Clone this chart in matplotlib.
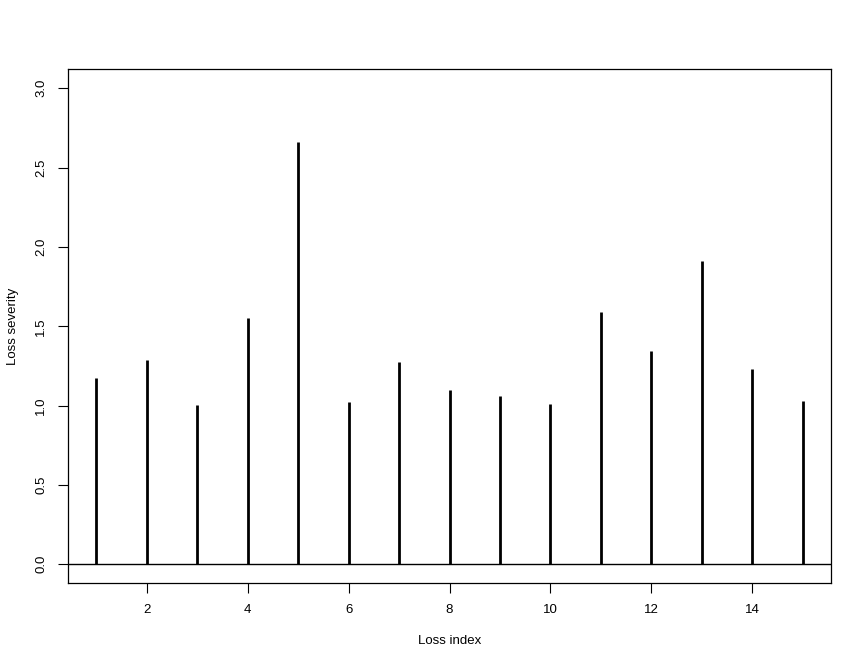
import numpy as np
import matplotlib.pyplot as plt

plt.rcParams['font.family'] = ['Liberation Sans', 'DejaVu Sans']

# loss data
loss_index = np.arange(1, 16)
loss_severity = [1.172, 1.285, 1.002, 1.550, 2.659, 1.021, 1.273, 1.098,
                 1.060, 1.012, 1.590, 1.344, 1.913, 1.229, 1.027]
x_ticks = [2, 4, 6, 8, 10, 12, 14]
y_ticks = [0.0, 0.5, 1.0, 1.5, 2.0, 2.5, 3.0]

fig = plt.figure(figsize=(8.67, 6.70), dpi=100)
ax = fig.add_axes([68 / 867, (670 - 583.3) / 670, (831 - 68) / 867, (583.3 - 69.2) / 670])

# vertical "h" type lines like R plot(type="h")
ax.vlines(loss_index, 0, loss_severity, color='black', linewidth=2)
ax.axhline(0, color='black', linewidth=1)

# R style limits with 4% padding
ax.set_xlim(1 - 0.56, 15 + 0.56)
ax.set_ylim(-0.12, 3.12)

ax.set_xticks(x_ticks)
ax.set_yticks(y_ticks)
ax.set_yticklabels(["{:.1f}".format(v) for v in y_ticks], rotation=90, va='center')
ax.tick_params(direction='out', length=7, width=0.8, labelsize=9.5, pad=8)

for s in ax.spines.values():
    s.set_linewidth(0.9)

ax.set_xlabel("Loss index", fontsize=9.5)
ax.set_ylabel("Loss severity", fontsize=9.5)
# place labels where R puts them (line 3 of the margin)
ax.xaxis.set_label_coords(0.5, -0.101)
ax.yaxis.set_label_coords(-0.064, 0.5)

fig.savefig("out.png")
